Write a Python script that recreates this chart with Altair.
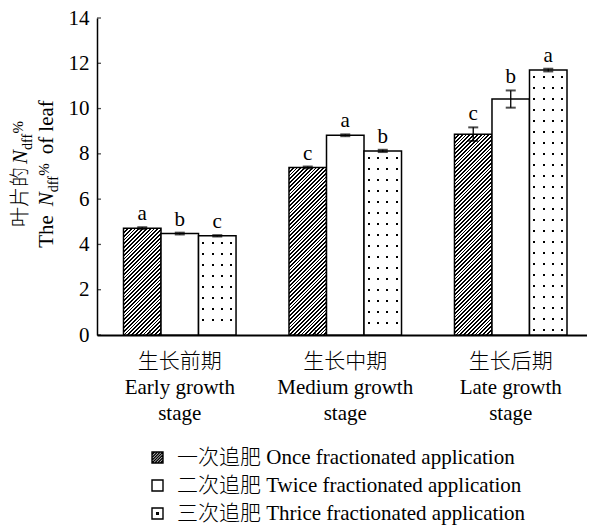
import altair as alt
import pandas as pd

# ---------------- data ----------------
stages = ["生长前期", "生长中期", "生长后期"]
stage_en1 = ["Early growth", "Medium growth", "Late growth"]
stage_en2 = ["stage", "stage", "stage"]
series = [
    "一次追肥 Once fractionated application",
    "二次追肥 Twice fractionated application",
    "三次追肥 Thrice fractionated application",
]
once = [4.72, 7.40, 8.87]
twice = [4.48, 8.82, 10.42]
thrice = [4.38, 8.13, 11.70]
once_err = [0.04, 0.04, 0.30]
twice_err = [0.04, 0.04, 0.38]
thrice_err = [0.03, 0.05, 0.06]
once_sig = ["a", "c", "c"]
twice_sig = ["b", "a", "b"]
thrice_sig = ["c", "b", "a"]
y_ticks = [0, 2, 4, 6, 8, 10, 12, 14]

vals = [once, twice, thrice]
errs = [once_err, twice_err, thrice_err]
sigs = [once_sig, twice_sig, thrice_sig]

rows = []
for si, s in enumerate(series):
    for gi, g in enumerate(stages):
        v, e = vals[si][gi], errs[si][gi]
        rows.append({"stage": g, "series": s, "value": v, "err": e,
                     "lo": v - e, "hi": v + e, "sig": sigs[si][gi]})
df = pd.DataFrame(rows)

# ---------------- layout ----------------
W, H = 490, 317
YMAX = 14
FONT = "Liberation Serif, Noto Sans CJK SC"
FS = 21
P_IN, P_OUT, ALIGN = 0.32, 0.1405, 0.57
step = W / (len(stages) - P_IN + 2 * P_OUT)
bar_w = step * (1 - P_IN) / len(series)

# ---------------- patterns ----------------
def r5(x):
    return round(max(0.0, min(1.0, x)), 5)

def hatch(w, h, period=3.8, frac=0.5):
    L = w + h
    r = h / w
    a = (1 + r) / (1 + r * r)
    n = int(L / period) + 1
    stops = []
    for k in range(n):
        t0 = k * period / L
        t1 = (k * period + frac * period) / L
        t2 = (k + 1) * period / L
        for off, col in [(t0, "black"), (t1, "black"), (t1, "white"), (t2, "white")]:
            stops.append({"offset": r5(off), "color": col})
    return {"gradient": "linear", "x1": 0, "y1": 0, "x2": a, "y2": a * r, "stops": stops}

def dot_cols(w, ncol=4, dw=2.0):
    stops = [{"offset": 0, "color": "white"}]
    half = dw / 2 / w
    for k in range(ncol):
        c = (k + 0.5) / ncol
        stops += [{"offset": r5(c - half), "color": "white"},
                  {"offset": r5(c - half), "color": "black"},
                  {"offset": r5(c + half), "color": "black"},
                  {"offset": r5(c + half), "color": "white"}]
    stops.append({"offset": 1, "color": "white"})
    return {"gradient": "linear", "x1": 0, "y1": 0, "x2": 1, "y2": 0, "stops": stops}

def dot_rows(h, first=6.0, gap=11.0, dh=2.2):
    clear = "rgba(255,255,255,0)"
    stops = [{"offset": 0, "color": "white"}]
    y = first
    while y + dh < h - 3:
        stops += [{"offset": r5(y / h), "color": "white"},
                  {"offset": r5(y / h), "color": clear},
                  {"offset": r5((y + dh) / h), "color": clear},
                  {"offset": r5((y + dh) / h), "color": "white"}]
        y += gap
    stops.append({"offset": 1, "color": "white"})
    return {"gradient": "linear", "x1": 0, "y1": 0, "x2": 0, "y2": 1, "stops": stops}

# legend symbol paths (unit box -1..1)
sq = "M-1,-1H1V1H-1Z"
hatch_lines = ""
for c in [-1.5, -1.0, -0.5, 0.0, 0.5, 1.0, 1.5]:
    x0, x1 = max(-1, c - 1), min(1, c + 1)
    hatch_lines += f" M{x0},{c - x0}L{x1},{c - x1}"
shape_paths = [sq + hatch_lines, sq, sq + " M-0.15,-0.15H0.15V0.15H-0.15Z"]

# ---------------- scales / axes ----------------
label_expr = " : ".join(
    f"datum.value == '{g}' ? ['{g}', '{e1}', '{e2}']"
    for g, e1, e2 in zip(stages, stage_en1, stage_en2)
) + " : datum.value"

xscale = alt.Scale(domain=stages, paddingInner=P_IN, paddingOuter=P_OUT, align=ALIGN)
xaxis = alt.Axis(title=None, labelExpr=label_expr, labelAngle=0, ticks=False,
                 domainColor="black", domainWidth=2, labelFont=FONT,
                 labelFontSize=FS, labelFontWeight=300, labelColor="black",
                 labelPadding=15, labelLineHeight=26, labelLimit=0)
yscale = alt.Scale(domain=[0, YMAX], nice=False)
yaxis = alt.Axis(title=None, values=y_ticks, format="d", tickSize=0, grid=False,
                 domainColor="black", domainWidth=1.5, labelFont=FONT,
                 labelFontSize=FS, labelColor="black", labelPadding=8)

X = alt.X("stage:N", sort=stages, scale=xscale, axis=xaxis)
XO = alt.XOffset("series:N", sort=series,
                 scale=alt.Scale(domain=series, paddingInner=0, paddingOuter=0))
Y = alt.Y("value:Q", scale=yscale, axis=yaxis)

base = alt.Chart(df)
layers = []

# hidden points carrying the legend (covered by the bars)
layers.append(
    base.mark_point(filled=False, color="black", strokeWidth=1.3,
                    size=121, opacity=1).encode(
        x=X, xOffset=XO, y=alt.value(H - 30),
        shape=alt.Shape("series:N", sort=series,
                        scale=alt.Scale(domain=series, range=shape_paths),
                        legend=alt.Legend(
                            orient="none", legendX=50, legendY=429,
                            direction="vertical", title=None,
                            labelFont=FONT, labelFontSize=FS, labelFontWeight=300,
                            labelColor="black", labelLimit=0, labelOffset=9,
                            rowPadding=6, symbolSize=121, symbolStrokeWidth=1.4,
                            symbolStrokeColor="black", symbolOpacity=1,
                            padding=0)),
    )
)

# bars with patterns
for si, s in enumerate(series):
    for gi, g in enumerate(stages):
        v = vals[si][gi]
        h = v / YMAX * H
        sub = base.transform_filter((alt.datum.series == s) & (alt.datum.stage == g))
        enc = dict(x=X, xOffset=XO, y=Y)
        if si == 0:
            layers.append(sub.mark_bar(fill=hatch(bar_w, h), stroke="black",
                                       strokeWidth=1.5).encode(**enc))
        elif si == 1:
            layers.append(sub.mark_bar(fill="white", stroke="black",
                                       strokeWidth=1.5).encode(**enc))
        else:
            layers.append(sub.mark_bar(fill=dot_cols(bar_w)).encode(**enc))
            layers.append(sub.mark_bar(fill=dot_rows(h), stroke="black",
                                       strokeWidth=1.5).encode(**enc))

# error bars
layers.append(base.mark_rule(color="black", strokeWidth=1.3).encode(
    x=X, xOffset=XO, y=alt.Y("lo:Q", scale=yscale, axis=yaxis), y2="hi:Q"))
for fld in ["lo", "hi"]:
    layers.append(base.mark_tick(orient="horizontal", color="black", size=10,
                                 thickness=2).encode(
        x=X, xOffset=XO, y=alt.Y(f"{fld}:Q", scale=yscale, axis=yaxis)))

# significance letters
layers.append(base.mark_text(font=FONT, fontSize=FS, dy=-7, baseline="alphabetic",
                             color="black").encode(
    x=X, xOffset=XO, y=alt.Y("hi:Q", scale=yscale, axis=yaxis), text="sig:N"))

# inward y ticks
layers.append(alt.Chart(pd.DataFrame({"t": y_ticks})).mark_tick(
    orient="horizontal", color="black", size=4, thickness=1.3).encode(
    y=alt.Y("t:Q", scale=yscale, axis=yaxis), x=alt.value(2)))

# inward x ticks between groups (end of band + half the gap)
layers.append(alt.Chart(pd.DataFrame({"stage": stages[:-1]})).mark_tick(
    orient="vertical", color="black", size=5, thickness=1.3).encode(
    x=alt.X("stage:N", sort=stages, scale=xscale, axis=xaxis, bandPosition=1),
    xOffset=alt.value(P_IN * step / 2),
    y=alt.value(H - 2.5)))

# y title built from segments (rotated)
one = pd.DataFrame({"k": [0]})
def seg(text, x, y, size=FS, style="normal", weight=400):
    return alt.Chart(one).mark_text(
        text=text, angle=270, align="left", baseline="alphabetic", font=FONT,
        fontSize=size, fontStyle=style, fontWeight=weight, color="black").encode(
        x=alt.value(x), y=alt.value(y))

cy = 156
# line 1: 叶片的N_dff%
l1x = -70
f1 = 20
w_cjk, g1, w_N, w_dff, w_pct = 3 * f1, 3, 0.667 * FS, 1.166 * 14, 0.833 * 15
y0 = cy + (w_cjk + g1 + w_N + w_dff + w_pct) / 2
layers += [
    seg("叶片的", l1x, y0, size=f1, weight=300),
    seg("N", l1x, y0 - w_cjk - g1, style="italic"),
    seg("dff", l1x + 5, y0 - w_cjk - g1 - w_N, size=14),
    seg("%", l1x - 4, y0 - w_cjk - g1 - w_N - w_dff, size=15),
]
# line 2: The N_dff% of leaf
l2x = -44
w_the, gap, w_of = 1.555 * FS, 9, 2.582 * FS
tot2 = w_the + gap + w_N + w_dff + w_pct + gap + w_of
yy = cy + tot2 / 2
layers.append(seg("The", l2x, yy)); yy -= w_the + gap
layers.append(seg("N", l2x, yy, style="italic")); yy -= w_N
layers.append(seg("dff", l2x + 5, yy, size=14)); yy -= w_dff
layers.append(seg("%", l2x - 4, yy, size=15)); yy -= w_pct + gap
layers.append(seg("of leaf", l2x, yy))

chart = alt.layer(*layers).properties(
    width=W, height=H,
    autosize=alt.AutoSizeParams(type="none"),
    padding={"left": 89, "top": 10, "right": 0, "bottom": 190},
).configure_view(stroke=None)

chart.save("out.html", embed_options={"renderer": "svg", "actions": False})
